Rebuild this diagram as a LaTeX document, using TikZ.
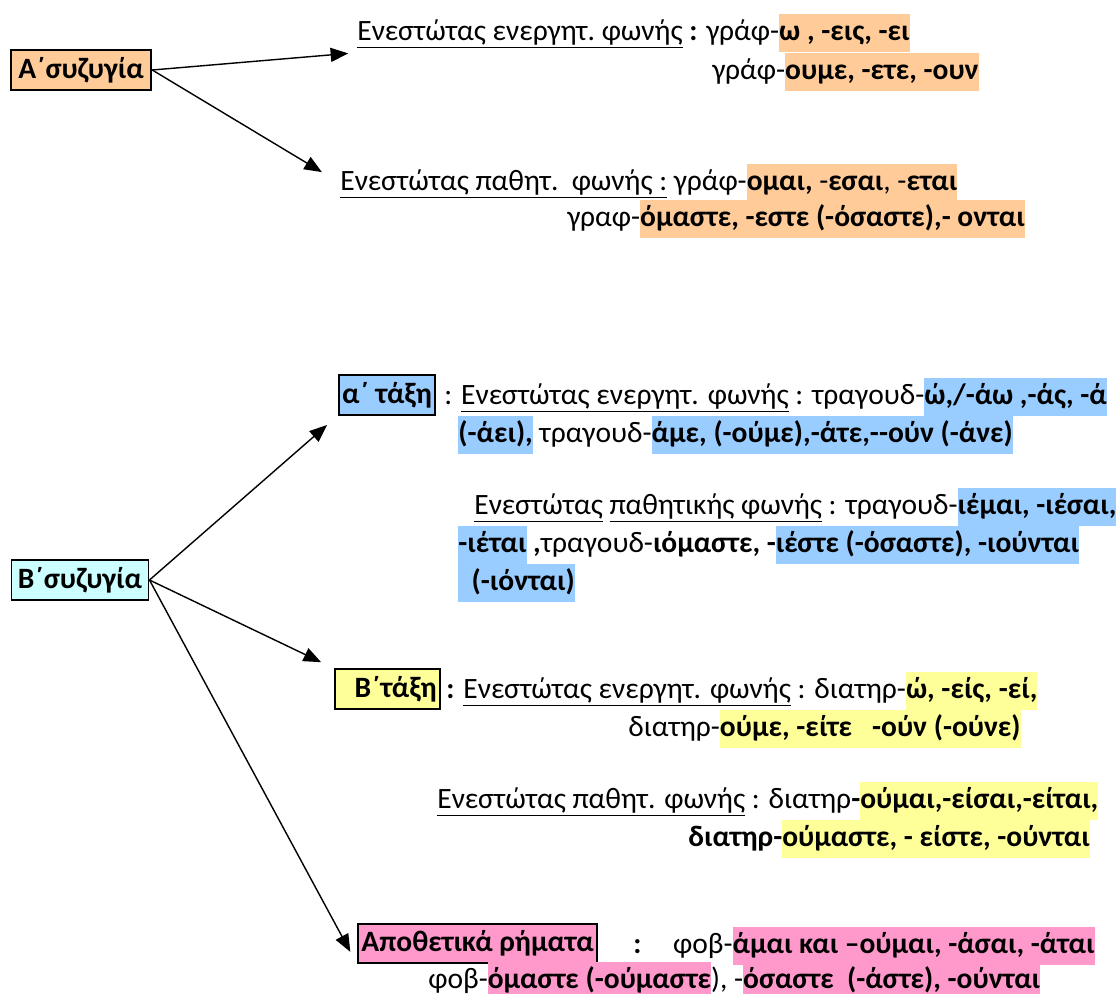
\documentclass[tikz,border=0pt]{standalone}
\usepackage{fontspec}
\setmainfont{Carlito}
\usetikzlibrary{arrows.meta}

\definecolor{peach}{HTML}{FFCC99}
\definecolor{paleblue}{HTML}{99CCFF}
\definecolor{palecyan}{HTML}{CCFFFF}
\definecolor{paleyellow}{HTML}{FFFF99}
\definecolor{palepink}{HTML}{FF99CC}

\newcommand{\hl}[2]{{\setlength{\fboxsep}{0pt}\colorbox{#1}{\rule[-7pt]{0pt}{22pt}#2}}}

\tikzset{
  txt/.style={anchor=base west, inner sep=0pt, font=\fontsize{16.8}{20}\selectfont},
  tbox/.style={draw, line width=1.1pt, inner xsep=2pt, inner ysep=0pt,
    minimum height=22.5pt, font=\fontsize{16.8}{20}\selectfont\bfseries},
  arr/.style={-{Triangle[length=10pt,width=8pt]}, line width=0.8pt}
}

\begin{document}
\begin{tikzpicture}[x=0.02cm,y=-0.02cm]
    \useasboundingbox (0,0) rectangle (1117,994);

    \node [tbox, fill=peach, minimum width=80pt] (Asyz) at (81,70) {Α΄συζυγία};
    \node [txt] (act1) at (357,40) {\underline{Ενεστώτας ενεργητ.\ φωνής} \textbf{:} γράφ-\hl{peach}{\textbf{ω , -εις, -ει}}};
    \node [txt] (act1b) at (712,79) {γράφ-\hl{peach}{\textbf{ουμε, -ετε, -ουν}}};
    \node [txt] (pas1) at (340,190) {\underline{Ενεστώτας παθητ.\ \ φωνής :} γράφ-\hl{peach}{\textbf{ομαι,} -\textbf{εσαι}, -\textbf{εται}}};
    \node [txt] (pas1b) at (567,226) {γραφ-\hl{peach}{\textbf{όμαστε, -εστε (-όσαστε),- ονται}}};
    \draw [arr, shorten >=5pt] (Asyz.east) -- (act1.south west);
    \draw [arr, shorten >=12pt] (Asyz.east) -- (pas1.west);

    \node [tbox, fill=palecyan, minimum width=78pt] (Bsyz) at (80,580) {Β΄συζυγία};

    \node [tbox, fill=paleblue, minimum width=53pt] (ataxi) at (387,395) {α΄ τάξη};
    \node [txt] (act2) at (444,404) {: \underline{Ενεστώτας ενεργητ. φωνής} : τραγουδ-\hl{paleblue}{\textbf{ώ,/-άω ,-άς, -ά}}};
    \node [txt] (act2b) at (458,442) {\hl{paleblue}{\textbf{(-άει),}} τραγουδ-\hl{paleblue}{\textbf{άμε, (-ούμε),-άτε,-{}-ούν (-άνε)}}};
    \node [txt] (pas2) at (474,514) {\underline{Ενεστώτας} \underline{παθητικής φωνής} : τραγουδ-\hl{paleblue}{\textbf{ιέμαι, -ιέσαι,}}};
    \node [txt] (pas2b) at (458,552) {\hl{paleblue}{\textbf{-ιέται}} \textbf{,}τραγουδ-\textbf{ιόμαστε, -}\hl{paleblue}{\textbf{ιέστε (-όσαστε), -ιούνται}}};
    \node [txt] (pas2c) at (458,590) {\hl{paleblue}{\textbf{\ \ (-ιόνται)}}};

    \node [tbox, fill=paleyellow, text width=56pt, align=right] (btaxi) at (387.5,689) {Β΄τάξη};
    \node [txt] (act3) at (446,698) {\textbf{:} \underline{Ενεστώτας ενεργητ. φωνής} : διατηρ-\hl{paleyellow}{\textbf{ώ, -είς, -εί,}}};
    \node [txt] (act3b) at (628,736) {διατηρ-\hl{paleyellow}{\textbf{ούμε, -είτε\ \ \ -ούν (-ούνε)}}};
    \node [txt] (pas3) at (437,808) {\underline{Ενεστώτας παθητ. φωνής} : διατηρ\textbf{-}\hl{paleyellow}{\textbf{ούμαι,-είσαι,-είται,}}};
    \node [txt] (pas3b) at (688,846) {\textbf{διατηρ-}\hl{paleyellow}{\textbf{ούμαστε, - είστε, -ούνται}}};

    \node [tbox, fill=palepink, anchor=west, minimum width=129pt] (apoth) at (357,943.5) {Αποθετικά ρήματα};
    \node [txt] (dep) at (633,953) {\textbf{:}\hspace{18pt}φοβ-\hl{palepink}{\textbf{άμαι και –ούμαι, -άσαι, -άται}}};
    \node [txt] (depb) at (428,988) {φοβ-\hl{palepink}{\textbf{όμαστε (-ούμαστε}}), -\hl{palepink}{\textbf{όσαστε\ \ (-άστε), -ούνται}}};

    \draw [arr, shorten >=8pt] (Bsyz.east) -- (ataxi.south west);
    \draw [arr, shorten >=8pt] (Bsyz.east) -- (btaxi.north west);
    \draw [arr, shorten >=8pt] (Bsyz.east) -- (apoth.south west);
\end{tikzpicture}
\end{document}
